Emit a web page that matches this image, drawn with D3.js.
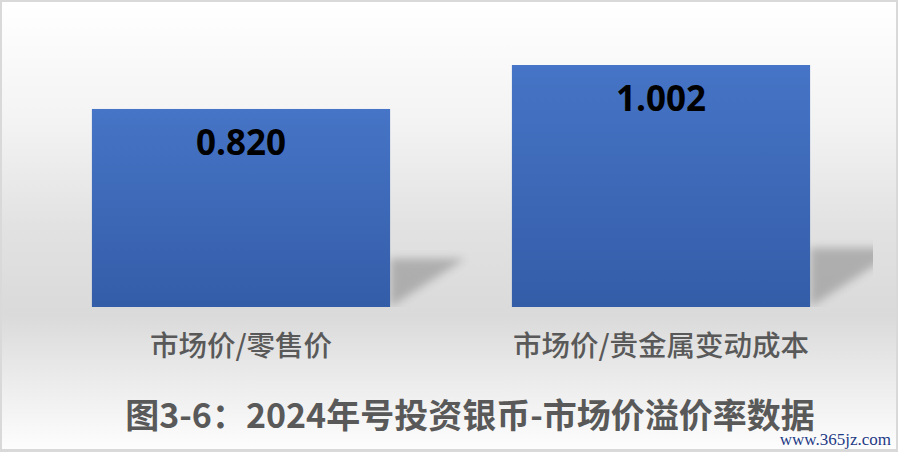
<!DOCTYPE html>
<html><head><meta charset="utf-8">
<script src="https://cdn.jsdelivr.net/npm/d3@7"></script>
<style>html,body{margin:0;padding:0;background:#fff;}svg{display:block;}</style>
</head><body>
<script>
const categories = ["市场价/零售价", "市场价/贵金属变动成本"];
const values = [0.820, 1.002];
const valueLabels = ["0.820", "1.002"];
const titleText = "图3-6：2024年号投资银币-市场价溢价率数据";
const watermarkText = "www.365jz.com";

const W = 898, H = 452;
const svg = d3.select("body").append("svg").attr("width", W).attr("height", H);
const defs = svg.append("defs");

const bg = defs.append("linearGradient").attr("id","bg").attr("x1",0).attr("y1",0).attr("x2",0).attr("y2",1);
[[0,"#ffffff"],[0.27,"#f3f3f3"],[0.5,"#e2e2e2"],[0.7,"#dadada"],[0.85,"#ececec"],[1,"#fdfdfd"]]
  .forEach(([o,c]) => bg.append("stop").attr("offset",o).attr("stop-color",c));

const barG = defs.append("linearGradient").attr("id","barg").attr("x1",0).attr("y1",0).attr("x2",0).attr("y2",1);
barG.append("stop").attr("offset",0).attr("stop-color","#4674c6");
barG.append("stop").attr("offset",1).attr("stop-color","#345da8");

const blur = defs.append("filter").attr("id","blur").attr("x","-20%").attr("y","-20%").attr("width","140%").attr("height","140%");
blur.append("feGaussianBlur").attr("stdDeviation",4);

defs.append("clipPath").attr("id","plotclip").append("rect")
  .attr("x",2).attr("y",2).attr("width",871).attr("height",305);

// border + background
svg.append("rect").attr("x",0).attr("y",0).attr("width",W).attr("height",H).attr("fill","#d9d9d9");
svg.append("rect").attr("x",2).attr("y",2).attr("width",W-4).attr("height",H-5).attr("fill","url(#bg)");

const x = d3.scaleBand().domain(categories).range([31, 871]).paddingInner(0.29).paddingOuter(0.145);
const y = d3.scaleLinear().domain([0, 1.2]).range([307, 17.2]);
const base = y(0);

// shadows
svg.append("g").attr("clip-path","url(#plotclip)")
  .selectAll("polygon").data(values).join("polygon")
  .attr("points", (d,i) => {
    const x1 = x(categories[i]) + x.bandwidth();
    const h = base - y(d);
    const sy = base - 0.245*h;
    const L = 0.38*h;
    return [[x1, sy],[x1+L, sy],[x1, base]].map(p=>p.join(",")).join(" ");
  })
  .attr("fill","#747474").attr("opacity",0.45).attr("filter","url(#blur)");

// bars
svg.append("g").selectAll("rect").data(values).join("rect")
  .attr("x",(d,i)=>x(categories[i]))
  .attr("y",d=>y(d))
  .attr("width",x.bandwidth())
  .attr("height",d=>base - y(d))
  .attr("fill","url(#barg)");

// value labels
svg.append("g").selectAll("text").data(values).join("text")
  .attr("x",(d,i)=>x(categories[i]) + x.bandwidth()/2)
  .attr("y",d=>y(d) + 46)
  .attr("text-anchor","middle")
  .attr("font-family","'Open Sans', 'Noto Sans', sans-serif")
  .attr("font-weight",700)
  .attr("font-size",35)
  .attr("fill","#000")
  .text((d,i)=>valueLabels[i]);

// category axis labels
const xAxis = d3.axisBottom(x).tickSize(0).tickPadding(0);
const ax = svg.append("g").attr("transform",`translate(0,${base})`).call(xAxis);
ax.select(".domain").remove();
ax.selectAll("text")
  .attr("dy", null).attr("y", 49)
  .attr("font-family","'Noto Sans CJK SC', sans-serif")
  .attr("font-weight",500)
  .attr("font-size",28.5)
  .attr("fill","#595959");

// title
svg.append("text").attr("x",470).attr("y",428)
  .attr("text-anchor","middle")
  .attr("font-family","'Noto Sans CJK SC', sans-serif")
  .attr("font-weight",700)
  .attr("font-size",34)
  .attr("fill","#595959")
  .text(titleText);

// watermark
svg.append("text").attr("x",891).attr("y",445)
  .attr("text-anchor","end")
  .attr("font-family","'Liberation Serif', serif")
  .attr("font-size",17)
  .attr("fill","#1d3a85")
  .attr("stroke","#ffffff").attr("stroke-width",0.6).attr("paint-order","stroke")
  .text(watermarkText);
</script>
</body></html>
